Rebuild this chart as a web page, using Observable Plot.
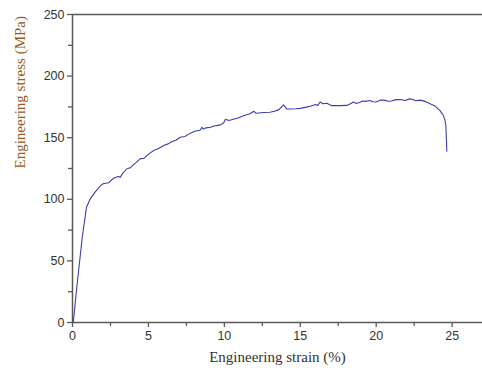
<!DOCTYPE html>
<html>
<head>
<meta charset="utf-8">
<script src="https://cdn.jsdelivr.net/npm/d3@7"></script>
<script src="https://cdn.jsdelivr.net/npm/@observablehq/plot@0.6"></script>
<style>
  html, body { margin: 0; padding: 0; background: #fff; }
  #chart svg { display: block; }
</style>
</head>
<body>
<div id="chart"></div>
<script>
const strain = [0.05, 0.31, 0.64, 0.92, 1.18, 1.5, 1.84, 2.0, 2.17, 2.4, 2.55, 2.7, 3.0, 3.15, 3.3, 3.6, 3.8, 4.0, 4.2, 4.47, 4.7, 4.9, 5.1, 5.35, 5.7, 6.0, 6.3, 6.5, 6.8, 7.1, 7.4, 7.6, 7.9, 8.1, 8.4, 8.53, 8.6, 8.8, 9.1, 9.3, 9.5, 9.74, 9.95, 10.07, 10.3, 10.6, 10.9, 11.3, 11.7, 11.93, 12.1, 12.6, 13.0, 13.3, 13.57, 13.9, 14.1, 14.4, 14.7, 15.0, 15.4, 15.66, 16.0, 16.15, 16.3, 16.5, 16.76, 16.9, 17.09, 17.6, 18.07, 18.3, 18.5, 18.7, 18.9, 19.1, 19.3, 19.6, 19.8, 20.0, 20.3, 20.5, 20.8, 21.0, 21.3, 21.6, 21.9, 22.2, 22.4, 22.6, 22.9, 23.2, 23.55, 23.9, 24.2, 24.4, 24.5, 24.58, 24.62, 24.65];
const stress = [0, 31.7, 69, 93.6, 100.6, 106, 111, 112.5, 113, 113.5, 115.5, 117, 118.5, 118, 121, 125, 125.5, 128, 130, 133, 133.2, 135.5, 137.5, 139.6, 141.5, 143.7, 145, 146.5, 148, 150.4, 151, 152.5, 154.5, 155.5, 156, 158.5, 157, 158, 158.5, 159.5, 159.8, 160.4, 162, 165, 164, 165, 166, 168, 169.4, 171.5, 169.8, 170.5, 170.7, 171.5, 172.6, 176.7, 173.4, 173.3, 173.5, 173.8, 174.8, 175.5, 177, 176.2, 179, 177.5, 178, 177, 176, 176, 176.2, 177.5, 179, 177.8, 178.5, 179.8, 179.5, 180.2, 179.2, 179, 180.6, 180.5, 179.6, 179.8, 180.9, 181, 180.2, 181.5, 181, 180, 180.5, 179.5, 177.5, 175.5, 172, 168.5, 165.5, 161, 150, 139];
const xTicks = [0, 5, 10, 15, 20, 25];
const xMinor = [2.5, 7.5, 12.5, 17.5, 22.5];
const yTicks = [0, 50, 100, 150, 200, 250];
const yMinor = [25, 75, 125, 175, 225];

const data = strain.map((s, i) => ({strain: s, stress: stress[i]}));
const axisColor = "#5a5a5a";

const chart = Plot.plot({
  width: 482,
  height: 371,
  marginLeft: 72,
  marginRight: 0,
  marginTop: 14,
  marginBottom: 49,
  style: {background: "#fff", fontFamily: "Liberation Sans, Arial, sans-serif"},
  x: {domain: [0, 27], label: null},
  y: {domain: [0, 250], label: null},
  marks: [
    Plot.axisX({ticks: xMinor, tickSize: 4, tickFormat: () => "", stroke: axisColor, strokeWidth: 1.3, label: null}),
    Plot.axisX({ticks: xTicks, tickSize: 5, tickPadding: 4, stroke: axisColor, strokeWidth: 1.3, fill: "#333", fontSize: 12.5, label: null}),
    Plot.axisY({ticks: yMinor, tickSize: 4, tickFormat: () => "", stroke: axisColor, strokeWidth: 1.3, label: null}),
    Plot.axisY({ticks: yTicks, tickSize: 5, tickPadding: 3, stroke: axisColor, strokeWidth: 1.3, fill: "#333", fontSize: 12.5, label: null}),
    Plot.ruleY([0], {stroke: axisColor, strokeWidth: 1.5}),
    Plot.ruleY([250], {stroke: axisColor, strokeWidth: 1.5}),
    Plot.ruleX([0], {stroke: axisColor, strokeWidth: 1.5}),
    Plot.line(data, {x: "strain", y: "stress", stroke: "#3d3dae", strokeWidth: 1.1}),
    Plot.text(["Engineering strain (%)"], {frameAnchor: "bottom", dy: 35, fontFamily: "Liberation Serif, Times New Roman, serif", fontSize: 15, fill: "#333", x: 13.5, y: 0, lineAnchor: "middle"}),
    Plot.text(["Engineering stress (MPa)"], {frameAnchor: "left", dx: -52, rotate: -90, fontFamily: "Liberation Serif, Times New Roman, serif", fontSize: 15, fill: "#9a5a20"})
  ]
});
document.getElementById("chart").appendChild(chart);
</script>
</body>
</html>
